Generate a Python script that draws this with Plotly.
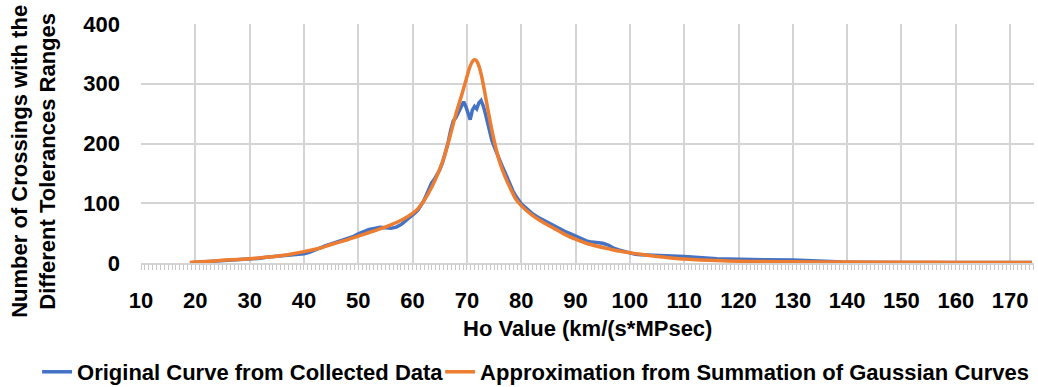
import plotly.graph_objects as go

# Original curve (blue)
x_orig = [19, 20, 21, 22, 23, 24, 25, 26, 27, 28, 29, 30, 31, 32, 33, 34, 35, 36, 37, 38, 39,
          40, 41, 42, 43, 44, 45, 46, 47, 48, 49, 50, 51, 52, 53, 54, 55, 56, 57, 58, 59,
          60, 60.5, 61, 61.5, 62, 62.5, 63, 63.5, 64, 64.5, 65, 65.5, 66, 66.5, 67, 67.5,
          68, 68.5, 69, 69.4, 69.8, 70.2, 70.6, 71.0, 71.4, 71.8, 72.2, 72.6, 73.0, 73.4,
          73.8, 74.2, 74.6, 75, 75.5, 76, 76.5, 77, 77.5, 78, 78.5, 79, 79.5, 80, 81, 82,
          83, 84, 85, 86, 87, 88, 89, 90, 91, 92, 93, 94, 95, 96, 97, 98, 99, 100, 101,
          102, 104, 106, 108, 110, 112, 114, 116, 118, 120, 125, 130, 133, 135, 137, 139,
          142, 150, 160, 170, 174]
y_orig = [0.5, 1, 1.5, 2, 2.5, 3, 3.5, 4, 4.5, 5, 5.5, 6, 7, 8, 9.5, 10.5, 11, 11.5, 12, 13, 14,
          15.5, 18, 22, 26, 29, 32, 35, 37, 40, 44, 49, 53, 56, 58, 60, 59, 58, 60, 65, 73,
          80, 84, 89, 95, 103, 113, 125, 134, 140, 147, 156, 168, 182, 200, 222, 238,
          244, 253, 262, 270, 262, 250, 240, 256, 262, 258, 268, 272, 263, 250,
          233, 215, 205, 195, 183, 173, 162, 152, 140, 130, 120, 112, 105, 99, 91, 83,
          77, 72, 67, 62, 58, 53, 49, 45, 41, 37, 35, 34, 33, 30, 25, 22, 19, 16, 14.5,
          14, 13.5, 13, 12, 11, 9.5, 8, 7, 6.5, 6, 5.5, 5, 4.5, 3.5, 2.5, 1.5,
          1, 1, 0.8, 0.8, 0.8]

# Gaussian-sum approximation (orange)
x_fit = [19, 20, 22, 25, 28, 30, 33, 36, 40, 43, 45, 48, 50, 52, 54, 56, 58, 60, 61, 62, 63,
         64, 65, 66, 66.5, 67, 68, 69, 69.8, 70.5, 71, 71.3, 71.7, 72.2, 72.7, 73.2, 74,
         75, 76, 77, 78, 79, 80, 82, 84, 86, 88, 90, 92, 94, 96, 98, 100, 102, 105, 108,
         110, 113, 116, 120, 125, 130, 140, 150, 160, 170, 174]
y_fit = [1, 1.5, 2.5, 4.5, 6, 7, 9.5, 12.5, 19, 25, 31, 39, 45, 51, 57, 64, 72, 83, 91, 103, 118,
         136, 157, 183, 199, 216, 250, 280, 305, 327, 337, 340, 339, 330, 313, 290, 250,
         205, 170, 145, 125, 107, 96, 80, 68, 58, 48, 40, 33, 28, 24, 20, 17, 14.5, 11, 8,
         6.5, 5, 4, 3, 2.5, 2, 1.5, 1.2, 1, 1, 1]

x_ticks = list(range(10, 180, 10))
y_ticks = [0, 100, 200, 300, 400]

FONT = "Liberation Sans, Arial, sans-serif"
GRID = "#D4D4D4"
LEGFONT = dict(family=FONT, size=22, weight="bold", color="black")

fig = go.Figure()
fig.add_trace(go.Scatter(
    x=x_orig, y=y_orig, mode="lines", name="Original Curve from Collected Data",
    line=dict(color="#4472C4", width=3.5), legend="legend"))
fig.add_trace(go.Scatter(
    x=x_fit, y=y_fit, mode="lines", name="Approximation from Summation of Gaussian Curves",
    line=dict(color="#ED7D31", width=3.5, shape="spline", smoothing=0.6), legend="legend2"))

fig.update_layout(
    width=1038, height=387, autosize=False,
    margin=dict(l=141, r=4, t=24, b=124),
    paper_bgcolor="white", plot_bgcolor="white",
    font=dict(family=FONT, size=22, color="black"),
    showlegend=True,
    xaxis=dict(
        range=[10, 174.4], tickmode="array", tickvals=x_ticks,
        showgrid=True, gridcolor=GRID, gridwidth=2,
        ticks="outside", ticklen=5, tickcolor="#C8C8C8", tickwidth=1,
        minor=dict(tick0=10, dtick=10 / 14, ticks="outside", ticklen=5,
                   tickcolor="#C8C8C8", tickwidth=1, showgrid=False),
        showline=True, linecolor=GRID, linewidth=2, zeroline=False,
        tickfont=dict(family=FONT, size=22, weight="bold", color="black"),
        ticklabelstandoff=12, automargin=False,
    ),
    yaxis=dict(
        range=[0, 400], tickmode="array", tickvals=y_ticks,
        showgrid=True, gridcolor=GRID, gridwidth=2, zeroline=False,
        ticks="", showline=False,
        tickfont=dict(family=FONT, size=22, weight="bold", color="black"),
        ticklabelstandoff=20, automargin=False,
    ),
    legend=dict(orientation="h", xref="container", yref="container",
                x=0.0357, y=0.0388, xanchor="left", yanchor="middle",
                itemwidth=30, bgcolor="rgba(0,0,0,0)", font=LEGFONT),
    legend2=dict(orientation="h", xref="container", yref="container",
                 x=0.424, y=0.0388, xanchor="left", yanchor="middle",
                 itemwidth=30, bgcolor="rgba(0,0,0,0)", font=LEGFONT),
    annotations=[
        dict(text="<b>Number of Crossings with the<br>Different Tolerances Ranges</b>",
             xref="paper", yref="paper", x=-0.1200, y=0.427, xanchor="center", yanchor="middle",
             textangle=-90, showarrow=False, font=dict(family=FONT, size=22, color="black")),
        dict(text="<b>Ho Value (km/(s*MPsec)</b>",
             xref="paper", yref="paper", x=0.5, y=-0.272, xanchor="center", yanchor="middle",
             showarrow=False, font=dict(family=FONT, size=22, color="black")),
    ],
)

fig.write_html("out.html")
